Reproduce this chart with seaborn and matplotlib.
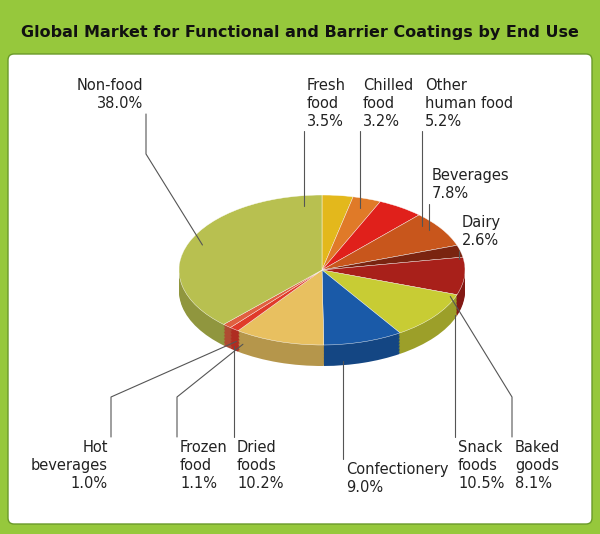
import numpy as np
import matplotlib
matplotlib.use("Agg")
import matplotlib.pyplot as plt
import matplotlib.colors as mc
from matplotlib.patches import FancyBboxPatch
import seaborn as sns

sns.set_theme(style="white")
plt.rcParams['font.family'] = ['DejaVu Sans']

labels = ["Fresh\nfood\n3.5%", "Chilled\nfood\n3.2%", "Other\nhuman food\n5.2%", "Beverages\n7.8%",
          "Dairy\n2.6%", "Baked\ngoods\n8.1%", "Snack\nfoods\n10.5%", "Confectionery\n9.0%",
          "Dried\nfoods\n10.2%", "Frozen\nfood\n1.1%", "Hot\nbeverages\n1.0%", "Non-food\n38.0%"]
values = [3.5, 3.2, 5.2, 7.8, 2.6, 8.1, 10.5, 9.0, 10.2, 1.1, 1.0, 38.0]
colors = ["#e3b81c", "#e07a28", "#e0201b", "#c8561c", "#7a2410", "#a8201a", "#c8cc34",
          "#1a5aa8", "#e8c060", "#e03a2a", "#e06040", "#b8c050"]
# label anchor (figure pixels from top-left), horizontal alignment
label_pos = [(307, 78, "left"), (363, 78, "left"), (425, 78, "left"), (432, 168, "left"),
             (462, 215, "left"), (515, 440, "left"), (458, 440, "left"), (346, 462, "left"),
             (237, 440, "left"), (180, 440, "left"), (108, 440, "right"), (143, 78, "right")]

W, H = 600, 534
fig = plt.figure(figsize=(6, 5.34), dpi=100, facecolor="#96c83c")
bg = fig.add_axes([0, 0, 1, 1]); bg.set_xlim(0, W); bg.set_ylim(H, 0); bg.axis("off")
bg.add_patch(FancyBboxPatch((8, 54), 584, 470, boxstyle="round,pad=0,rounding_size=6",
                            fc="white", ec="#6a9a2a", lw=1))
fig.text(0.5, 1 - 32 / H, "Global Market for Functional and Barrier Coatings by End Use",
         ha="center", va="center", fontsize=11.5, fontweight="bold", color="#111111")

cx, cy, rx, ry, depth = 322, 270, 143, 75, 0.28
axw, axh = 2.1 * rx, (2.1 + depth) * ry
top = cy - 1.05 * ry
ax = fig.add_axes([(cx - axw / 2) / W, 1 - (top + axh) / H, axw / W, axh / H], zorder=0)
dark = [mc.to_hex(np.array(mc.to_rgb(c)) * 0.78) for c in colors]
for d in np.linspace(depth, 0.01, 15):
    ax.pie(values, colors=dark, startangle=90, counterclock=False, center=(0, -d),
           wedgeprops=dict(lw=0))
ax.pie(values, colors=colors, startangle=90, counterclock=False, wedgeprops=dict(lw=0.3, ec="white"))
ax.set_aspect("auto")
ax.set_xlim(-1.05, 1.05); ax.set_ylim(-1.05 - depth, 1.05)
ax.axis("off")
bg.set_zorder(1); bg.patch.set_visible(False)
bg.patches[0].set_zorder(-10)
bg2 = fig.add_axes([0, 0, 1, 1], zorder=-1); bg2.axis("off")
bg2.set_xlim(0, W); bg2.set_ylim(H, 0)
bg.patches[0].remove()
bg2.add_patch(FancyBboxPatch((8, 54), 584, 470, boxstyle="round,pad=0,rounding_size=6",
                             fc="white", ec="#6a9a2a", lw=1))

cum = np.cumsum([0] + values[:-1])
total = sum(values)
for v, c0, lab, (lx, ly, ha) in zip(values, cum, labels, label_pos):
    ang = np.deg2rad(90 - (c0 + v / 2) / total * 360)
    nlines = lab.count("\n") + 1
    fig.text(lx / W, 1 - ly / H, lab, ha=ha, va="top", fontsize=10.5, color="#222222",
             linespacing=1.25)
    xl = lx - 3 if ha == "left" else lx + 3
    upper = ly < cy
    y_lab = ly + nlines * 17 + 2 if upper else ly - 3
    u = (xl - cx) / rx
    if abs(u) < 0.97:
        h = np.sqrt(1 - u ** 2) * ry
        y_end = cy - h + 10 if upper else cy + h + depth * ry - 4
        bg.plot([xl, xl], [y_lab, y_end], color="#555555", lw=0.8)
    else:
        px, py = cx + 0.9 * np.cos(ang) * rx, cy - 0.9 * np.sin(ang) * ry
        if not upper:
            py += depth * ry
        bg.plot([xl, xl, px], [y_lab, y_lab - 40 if not upper else y_lab + 40, py],
                color="#555555", lw=0.8)

fig.savefig("out.png", dpi=100, facecolor=fig.get_facecolor())
